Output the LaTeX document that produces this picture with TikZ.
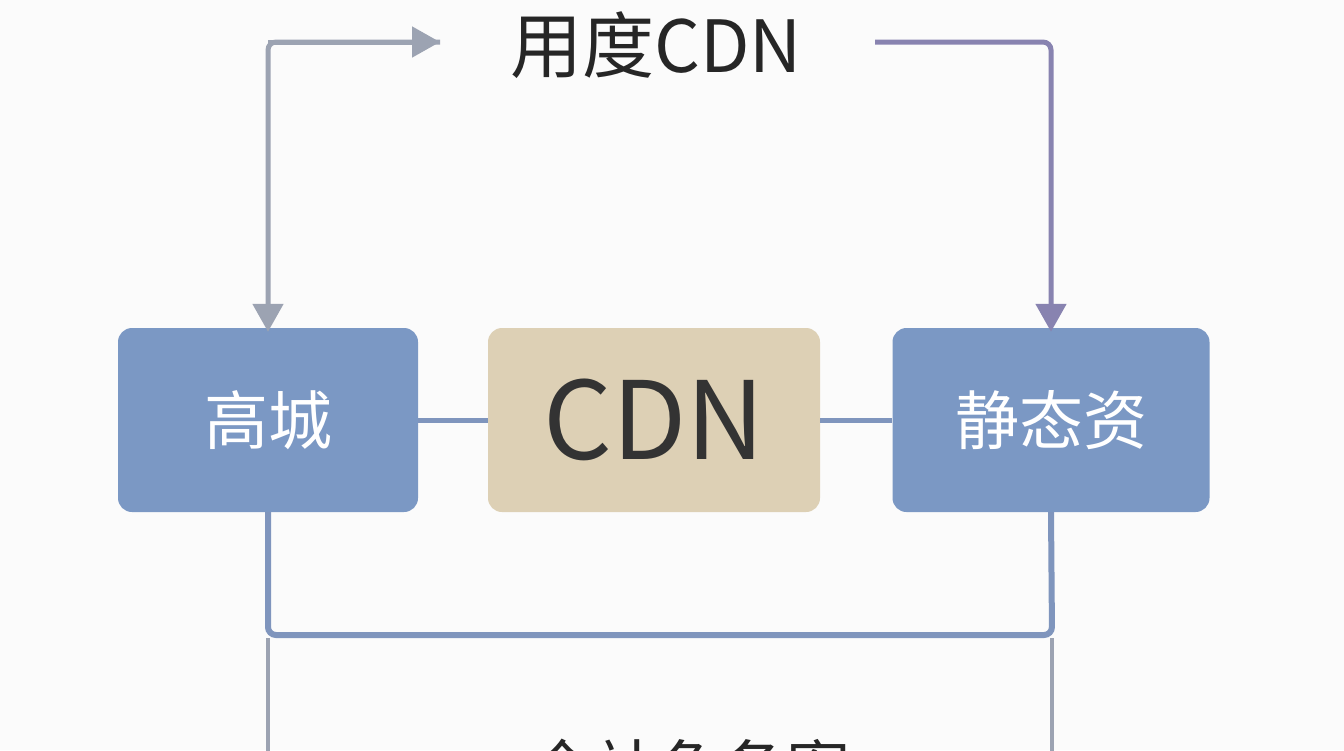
\documentclass[tikz,border=0pt]{standalone}
\usepackage{fontspec}
\setmainfont{Noto Sans CJK SC}
\usetikzlibrary{arrows.meta}
\definecolor{boxb}{HTML}{7B98C4}
\definecolor{boxt}{HTML}{DDD0B5}
\definecolor{lgray}{HTML}{9CA3B2}
\definecolor{lpur}{HTML}{8883B0}
\definecolor{lblue}{HTML}{7F95BD}
\begin{document}
\begin{tikzpicture}[x=1pt,y=-1pt,
  box/.style={rounded corners=14pt,minimum height=184pt,inner sep=0pt},
  conn/.style={line width=5pt,rounded corners=8pt},
  tip/.style={-{Triangle[length=28pt,width=30pt]}}]
\fill[white!97!gray] (0,0) rectangle (1344,750);
\clip (0,0) rectangle (1344,750);
\node[box,fill=boxb,minimum width=300pt,text=white,font=\fontsize{64}{66}\selectfont] (a) at (268,420) {高城};
\node[box,fill=boxt,minimum width=332pt,text=black!80,font=\fontsize{108}{110}\selectfont] (c) at (654,420) {CDN};
\node[box,fill=boxb,minimum width=317pt,text=white,font=\fontsize{64}{66}\selectfont] (b) at (1051,420) {静态资};
\node[font=\fontsize{72}{74}\selectfont,text=black!85] (t) at (656,45) {用度CDN};
\node[font=\fontsize{64}{66}\selectfont,text=black!85,anchor=north] (u) at (690,735) {全站免备案};
\coordinate (tl) at (440,42);
\coordinate (tr) at (875,42);
\draw[conn,lgray,tip] (tl) -| ([yshift=-4pt]a.north);
\draw[conn,lpur,tip] (tr) -| ([yshift=-4pt]b.north);
\draw[lgray,line width=5pt,tip] (268,42) -- (tl);
\draw[lblue,line width=5pt] (a.east) -- (c.west) (c.east) -- (b.west);
\draw[conn,lblue,line width=6pt] (a.south) -- (268,635) -- (1052,635) -- (b.south);
\draw[lgray,line width=4pt] (268,638) -- (268,760) (1052,638) -- (1052,760);
\end{tikzpicture}
\end{document}
